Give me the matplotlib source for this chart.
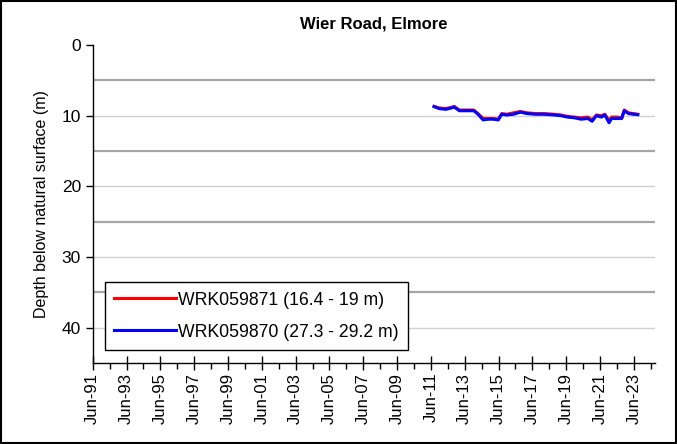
import matplotlib
matplotlib.use("Agg")
import matplotlib.pyplot as plt
import matplotlib.dates as mdates
from matplotlib.ticker import FixedLocator
from matplotlib.patches import Rectangle
import datetime as dt

plt.rcParams['font.family'] = ['Liberation Sans', 'DejaVu Sans']

# decimal years of readings
years = [2011.6, 2011.9, 2012.3, 2012.8, 2013.1, 2013.5, 2013.95, 2014.2, 2014.5,
         2014.8, 2015.1, 2015.4, 2015.6, 2015.9, 2016.3, 2016.7, 2017.1, 2017.6,
         2018.1, 2018.7, 2019.1, 2019.5, 2019.9, 2020.3, 2020.7, 2020.95, 2021.2,
         2021.5, 2021.7, 2021.95, 2022.1, 2022.4, 2022.7, 2022.85, 2023.1, 2023.4, 2023.65]
depth_870 = [8.7, 9.0, 9.1, 8.8, 9.3, 9.3, 9.3, 9.8, 10.6,
             10.5, 10.5, 10.6, 9.8, 9.9, 9.8, 9.5, 9.7, 9.8,
             9.8, 9.9, 10.0, 10.2, 10.3, 10.5, 10.4, 10.8, 10.0,
             10.2, 9.9, 11.0, 10.4, 10.4, 10.4, 9.3, 9.7, 9.8, 9.85]
depth_871 = [8.7, 8.9, 9.0, 8.7, 9.2, 9.2, 9.2, 9.7, 10.4,
             10.4, 10.4, 10.5, 9.7, 9.8, 9.6, 9.4, 9.6, 9.7,
             9.7, 9.8, 9.9, 10.1, 10.2, 10.3, 10.2, 10.6, 9.9,
             10.0, 9.8, 10.7, 10.2, 10.2, 10.3, 9.2, 9.6, 9.7, 9.8]
label_871 = 'WRK059871 (16.4 - 19 m)'
label_870 = 'WRK059870 (27.3 - 29.2 m)'
title = 'Wier Road, Elmore'
ylabel = 'Depth below natural surface (m)'
tick_years = list(range(1991, 2024, 2))    # labelled Jun ticks
minor_years = list(range(1991, 2025))


def to_date(y):
    yr = int(y)
    return dt.datetime(yr, 1, 1) + dt.timedelta(days=(y - yr) * 365.25)


dates = [to_date(y) for y in years]

fig = plt.figure(figsize=(6.77, 4.44), dpi=100)
ax = fig.add_axes([0.137, 0.1824, 0.8305, 0.7162])

# gridlines: every 5 m, the odd ones drawn darker
for d in range(5, 45, 10):
    ax.axhline(d, color='#a6a6a6', lw=1.6, zorder=0)
for d in range(10, 45, 10):
    ax.axhline(d, color='#d0d0d0', lw=1.0, zorder=0)

ax.plot(dates, depth_871, color='red', lw=2.2, label=label_871, zorder=3)
ax.plot(dates, depth_870, color='blue', lw=2.2, label=label_870, zorder=4)

ax.set_ylim(45, 0)
ax.set_yticks([0, 10, 20, 30, 40])
ax.set_xlim(dt.datetime(1991, 6, 1), dt.datetime(2024, 9, 1))

ax.xaxis.set_major_locator(FixedLocator(
    [mdates.date2num(dt.datetime(y, 6, 1)) for y in tick_years]))
ax.xaxis.set_minor_locator(FixedLocator(
    [mdates.date2num(dt.datetime(y, 6, 1)) for y in minor_years]))
ax.xaxis.set_major_formatter(mdates.DateFormatter('Jun-%y'))
ax.tick_params(axis='x', which='major', direction='inout', length=10, width=1,
               labelsize=12, rotation=90, pad=2)
ax.tick_params(axis='x', which='minor', direction='out', length=4, width=1)
ax.tick_params(axis='y', direction='out', length=5, width=1, labelsize=12.5)

for s in ['top', 'right']:
    ax.spines[s].set_visible(False)
for s in ['left', 'bottom']:
    ax.spines[s].set_color('black')
    ax.spines[s].set_linewidth(1)

ax.set_title(title, fontsize=12, fontweight='bold', pad=12)
ax.set_ylabel(ylabel, fontsize=11.5, labelpad=9)

leg = ax.legend(loc='lower left', bbox_to_anchor=(0.021, 0.04), fontsize=12.7,
                frameon=True, fancybox=False, edgecolor='black',
                handlelength=3.5, borderpad=0.55, labelspacing=0.85,
                handletextpad=0.1, borderaxespad=0)
leg.get_frame().set_linewidth(1)
leg.get_frame().set_alpha(1)

# outer frame around the whole chart
fig.patches.append(Rectangle((0.002, 0.003), 0.996, 0.994, transform=fig.transFigure,
                             fill=False, edgecolor='black', lw=1.5))

fig.savefig('out.png', dpi=100)
